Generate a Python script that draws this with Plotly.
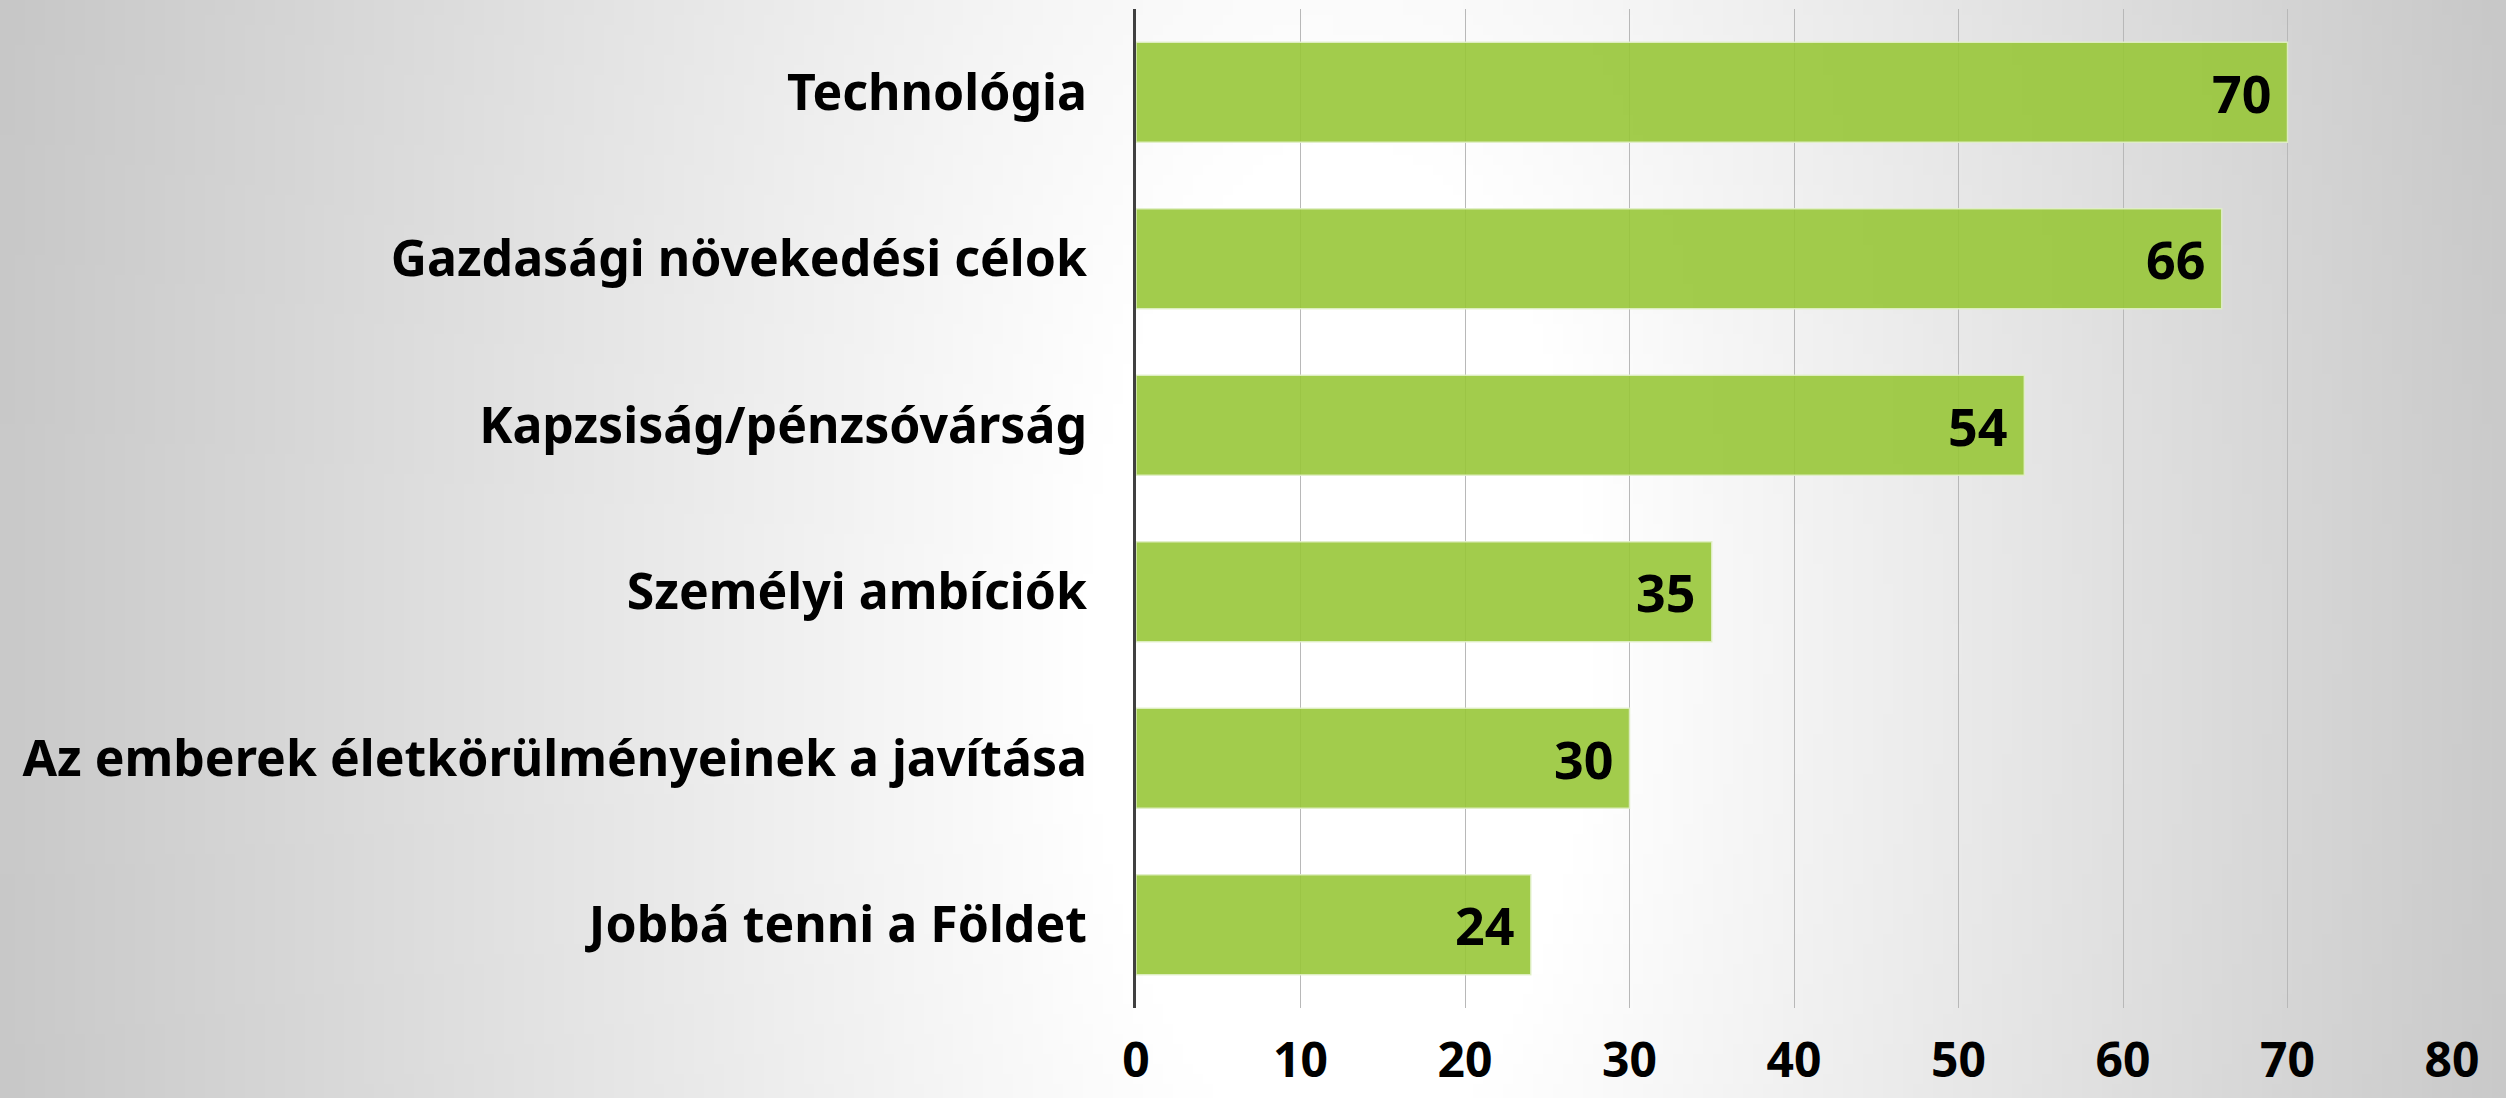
import base64
import struct
import zlib

import numpy as np
import plotly.graph_objects as go

# Adatok (felülről lefelé)
categories = [
    "Technológia",
    "Gazdasági növekedési célok",
    "Kapzsiság/pénzsóvárság",
    "Személyi ambíciók",
    "Az emberek életkörülményeinek a javítása",
    "Jobbá tenni a Földet",
]
values = [70, 66, 54, 35, 30, 24]
x_ticks = [0, 10, 20, 30, 40, 50, 60, 70, 80]

W, H = 2506, 1098
FONT = "Noto Sans"
M_L, M_R, M_T, M_B = 1136, 54, 9, 90


def gradient_png(w, h):
    """Radiális szürke-fehér háttér PNG data URI-ként"""
    sx, sy = W / w, H / h
    xs = (np.arange(w) + 0.5) * sx
    ys = (np.arange(h) + 0.5) * sy
    X, Y = np.meshgrid(xs, ys)
    cx, cy = 1340.0, 650.0
    dx = X - cx
    d = np.sqrt(dx ** 2 + (0.5 * (Y - cy)) ** 2)
    slope = np.where(dx < 0, 0.05, 0.058)
    g = 255 - slope * np.clip(d - 260, 0, None)
    g = np.clip(g, 185, 255).astype(np.uint8)
    raw = b"".join(b"\x00" + bytes(np.repeat(row, 3)) for row in g)

    def chunk(tag, data):
        c = struct.pack(">I", len(data)) + tag + data
        return c + struct.pack(">I", zlib.crc32(tag + data) & 0xFFFFFFFF)

    png = b"\x89PNG\r\n\x1a\n"
    png += chunk(b"IHDR", struct.pack(">IIBBBBB", w, h, 8, 2, 0, 0, 0))
    png += chunk(b"IDAT", zlib.compress(raw, 9))
    png += chunk(b"IEND", b"")
    return "data:image/png;base64," + base64.b64encode(png).decode()


fig = go.Figure()

fig.add_trace(go.Bar(
    x=values,
    y=categories,
    orientation="h",
    marker=dict(
        color="rgba(152,198,56,0.9)",
        line=dict(color="rgba(225,240,200,0.9)", width=1.5),
    ),
    width=0.6,
    hoverinfo="skip",
))

# Értékcímkék a sávok végén belül
for v, c in zip(values, categories):
    fig.add_annotation(
        x=v, y=c, text=f"<b>{v}</b>",
        xanchor="right", yanchor="middle", xshift=-14,
        showarrow=False,
        font=dict(family=FONT, size=52, color="black"),
    )

pw = W - M_L - M_R
ph = H - M_T - M_B
fig.add_layout_image(
    source=gradient_png(251, 110),
    xref="paper", yref="paper",
    x=-M_L / pw, y=1 + M_T / ph,
    sizex=W / pw, sizey=H / ph,
    xanchor="left", yanchor="top",
    sizing="stretch", layer="below",
)

fig.update_layout(
    width=W,
    height=H,
    margin=dict(l=M_L, r=M_R, t=M_T, b=M_B),
    paper_bgcolor="rgba(0,0,0,0)",
    plot_bgcolor="rgba(0,0,0,0)",
    showlegend=False,
    xaxis=dict(
        range=[0, 80],
        tickvals=x_ticks,
        ticktext=[f"<b>{t}</b>" for t in x_ticks],
        showgrid=True,
        gridcolor="#b8b8b8",
        gridwidth=1,
        zeroline=False,
        showline=False,
        ticks="",
        ticklabelstandoff=20,
        automargin=False,
        tickfont=dict(family=FONT, size=48, color="black"),
    ),
    yaxis=dict(
        autorange="reversed",
        tickvals=categories,
        ticktext=[f"<b>{c}</b>" for c in categories],
        showgrid=False,
        zeroline=False,
        showline=True,
        linecolor="#404040",
        linewidth=3,
        ticks="",
        ticklabelstandoff=36,
        automargin=False,
        tickfont=dict(family=FONT, size=50, color="black"),
    ),
)

# a böngésző alapértelmezett 8px-es body margóját kikapcsoljuk
fig.write_html(
    "out.html",
    config={"displayModeBar": False},
    post_script="document.body.style.margin='0';document.body.style.overflow='hidden';",
)
